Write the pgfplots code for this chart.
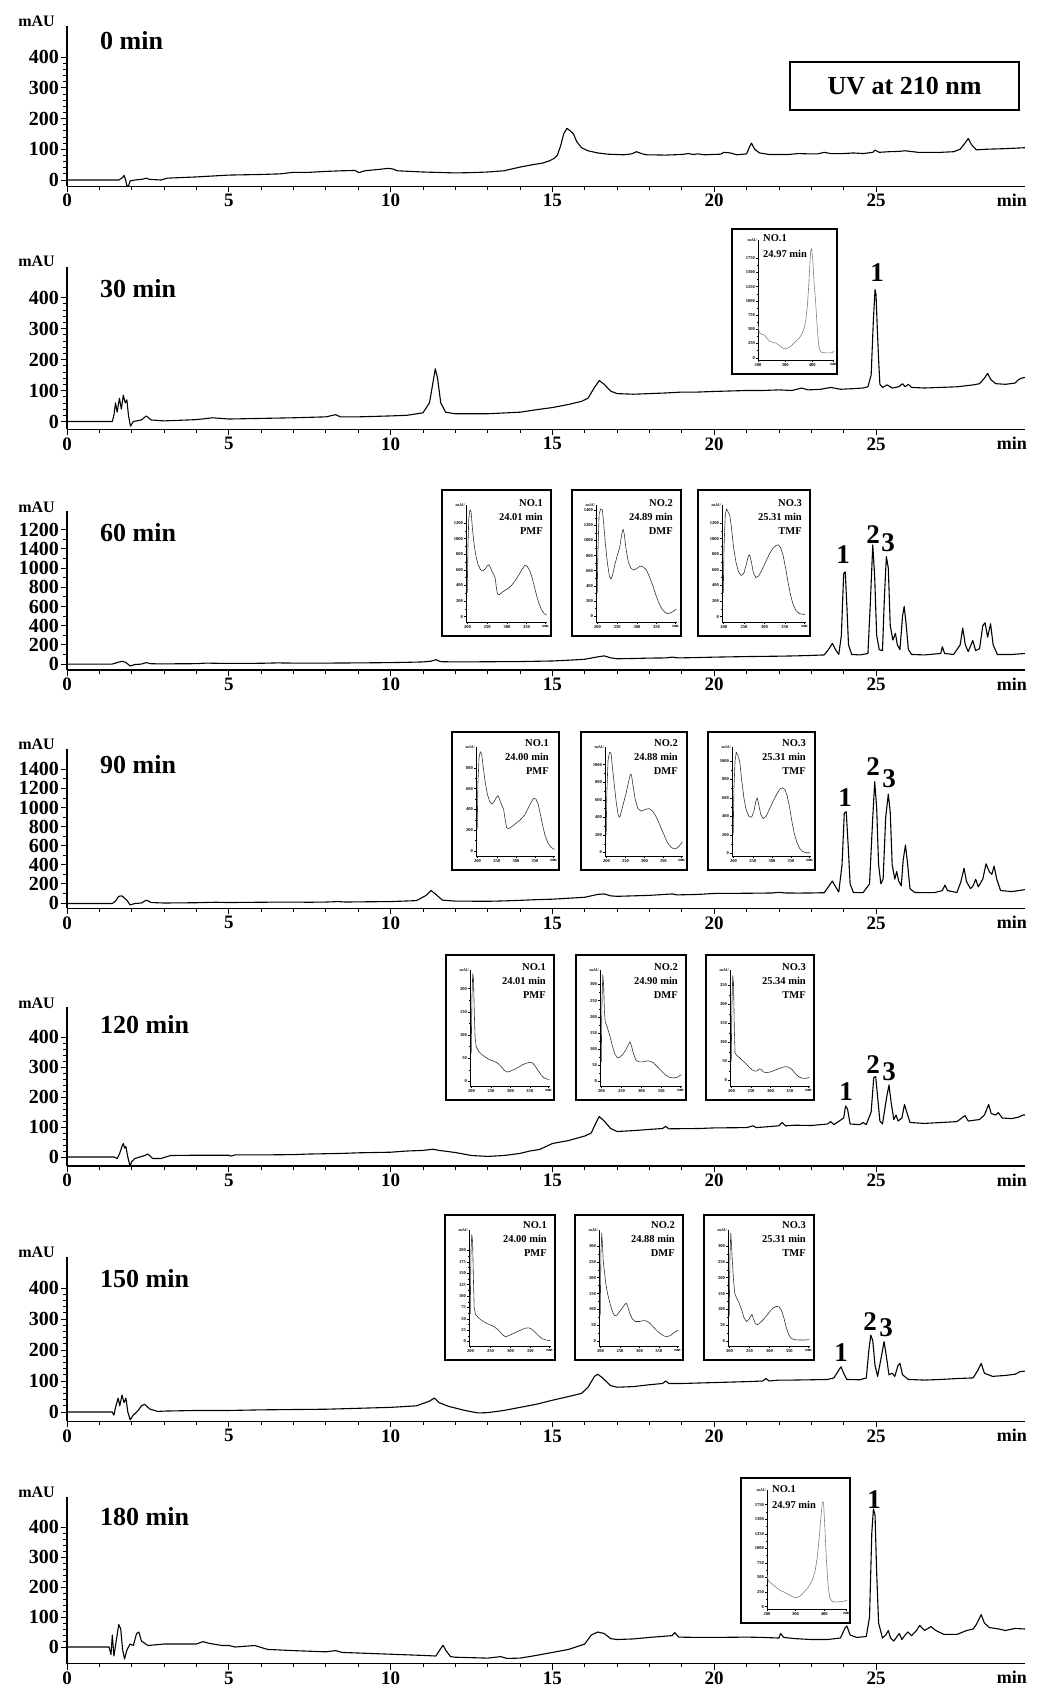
\documentclass[border=0pt]{standalone}
\usepackage{fontspec}
\setmainfont{Liberation Serif}
\usepackage{pgfplots}
\pgfplotsset{compat=1.18}
\newcommand\fs[1]{\fontsize{#1}{#1}\selectfont\bfseries}
\pgfplotsset{
  /pgf/number format/assume math mode=true,
  /pgf/number format/1000 sep={},
  scaled ticks=false,
  chrom/.style={
    axis x line=bottom, axis y line=left,
    axis line style={line width=1.3pt,-},
    x=32.36pt, xmin=0, xmax=29.6,
    xtick={0,5,10,15,20,25},
    minor x tick num=4,
    tick align=outside, major tick length=6pt, minor tick length=3.5pt,
    major tick style={line width=1pt,black},
    minor tick style={line width=0.8pt,black},
    xticklabel style={font=\fs{19}, inner sep=2pt},
    yticklabel style={font=\fs{20}, inner sep=2pt},
    anchor=south west,
  },
  y500/.style={ymax=500, ytick={0,100,200,300,400}, minor y tick num=4},
  trace/.style={black, line width=1.1pt, line join=round, mark=none},
  inset/.style={
    axis x line=bottom, axis y line=left,
    axis line style={line width=0.6pt,-},
    scale only axis, anchor=south west, clip=false,
    tick align=outside, major tick length=2pt, minor tick length=1.2pt,
    major tick style={line width=0.4pt,black},
    minor tick style={line width=0.3pt,black},
    tick label style={font=\fontsize{4.5}{5}\selectfont\bfseries, inner sep=1pt},
    minor y tick num=1, minor x tick num=4,
    after end axis/.code={\node[anchor=east, inner sep=1pt, font=\fontsize{4}{4}\selectfont\bfseries] at (rel axis cs:0,1) {mAU};},
  },
  spA/.style={xmin=196, xmax=402, xtick={200,250,300,350,398}, xticklabels={200,250,300,350,nm}},
  spB/.style={xmin=200, xmax=480, xtick={200,300,400,478}, xticklabels={200,300,400,nm}, ymin=-40, ytick={0,250,...,1750}},
  spec/.style={black!80, line width=0.6pt, line join=round, mark=none},
}
\newcommand\ibox[4]{\draw[line width=2.2pt] (#1pt,-#2pt) rectangle (#3pt,-#4pt);}
\newcommand\itext[3]{\node[anchor=north east, align=right, inner sep=0pt, font=\fontsize{10.5}{14}\selectfont\bfseries] at (#1pt,-#2pt) {#3};}
\newcommand\ltext[3]{\node[anchor=north west, align=left, inner sep=0pt, font=\fontsize{10.5}{16}\selectfont\bfseries] at (#1pt,-#2pt) {#3};}
\newcommand\plabel[3]{\node[anchor=base west, inner sep=0pt, font=\fs{26}] at (#1pt,-#2pt) {#3};}
\newcommand\mau[1]{\node[anchor=base east, inner sep=0pt, font=\fs{16}] at (55pt,-#1pt) {mAU};}
\newcommand\xmin[1]{\node[anchor=base east, inner sep=0pt, font=\fs{18}] at (1027pt,-#1pt) {min};}
\newcommand\pk[3]{\node[inner sep=0pt, font=\fs{27}] at (#1pt,-#2pt) {#3};}
\begin{document}
\begin{tikzpicture}
\useasboundingbox (0,0) rectangle (1037pt,-1691pt);
%% ---------------- 0 min
\begin{axis}[chrom, y500, at={(67pt,-186.15pt)}, y=0.3075pt, ymin=-20]
\addplot[trace] coordinates {(0,0)(1.6,0)(1.72,8)(1.76,15)(1.8,5)(1.85,-18)(1.9,-20)(1.95,-3)(2.1,0)(2.35,3)(2.45,6)(2.55,2)(2.9,0)(3.1,6)(4,10)(4.5,13)(5,16)(6,18)(6.6,20)(7,25)(7.5,25)(8,28)(8.5,30)(8.9,31)(9.02,24)(9.2,30)(9.6,34)(9.95,38)(10.1,35)(10.2,30)(10.6,28)(11,26)(12,23)(12.5,24)(13,26)(13.5,30)(14,42)(14.4,50)(14.7,55)(14.9,62)(15.05,70)(15.15,80)(15.25,110)(15.35,150)(15.45,168)(15.55,160)(15.65,150)(15.75,125)(15.9,105)(16.1,95)(16.4,88)(16.7,84)(17.2,82)(17.45,85)(17.6,92)(17.75,86)(17.9,82)(18.5,81)(19.0,83)(19.2,86)(19.35,83)(19.5,85)(19.7,82)(20.2,84)(20.3,90)(20.5,88)(20.7,82)(21.0,85)(21.1,110)(21.15,120)(21.25,100)(21.4,88)(21.7,83)(22.3,83)(22.6,86)(22.9,85)(23.2,85)(23.4,90)(23.6,86)(24.0,86)(24.3,88)(24.6,86)(24.9,90)(24.97,97)(25.1,90)(25.4,92)(25.7,93)(25.9,95)(26.3,90)(27.0,90)(27.4,92)(27.6,100)(27.75,120)(27.85,135)(27.95,115)(28.1,98)(28.4,100)(29.0,102)(29.4,104)(29.6,105)};
\end{axis}
\mau{27}\plabel{100}{50}{0 min}\xmin{206}
\node[draw, line width=2.5pt, minimum width=229pt, minimum height=48pt, inner sep=0pt, font=\fs{26}] at (904.5pt,-86pt) {UV at 210 nm};
%% ---------------- 30 min
\begin{axis}[chrom, y500, at={(67pt,-429.25pt)}, y=0.31pt, ymin=-25]
\addplot[trace] coordinates {(0,0)(1.4,0)(1.45,20)(1.5,60)(1.55,30)(1.62,75)(1.68,40)(1.74,85)(1.8,60)(1.85,70)(1.9,20)(1.96,-15)(2.05,0)(2.3,5)(2.45,18)(2.6,5)(3,2)(4,6)(4.5,12)(5,8)(6,10)(7,12)(8,15)(8.3,22)(8.45,15)(9,15)(10,18)(10.5,20)(11,28)(11.2,60)(11.3,120)(11.38,170)(11.45,140)(11.55,60)(11.7,30)(12,25)(13,25)(14,30)(14.5,38)(15,45)(15.5,55)(15.9,65)(16.1,75)(16.3,110)(16.45,132)(16.6,120)(16.8,98)(17,90)(17.5,88)(18,90)(18.5,92)(19,95)(19.5,95)(20,97)(21,100)(21.5,100)(22,102)(22.4,100)(22.7,108)(22.9,102)(23.3,104)(23.6,110)(23.9,104)(24.3,106)(24.6,108)(24.75,112)(24.85,150)(24.92,330)(24.97,425)(25.0,410)(25.04,300)(25.08,200)(25.12,120)(25.2,110)(25.35,118)(25.5,108)(25.7,112)(25.82,122)(25.9,112)(26.0,120)(26.1,110)(26.5,108)(27,110)(27.5,112)(28,118)(28.2,122)(28.35,140)(28.45,155)(28.55,135)(28.7,122)(29,120)(29.3,124)(29.4,135)(29.5,140)(29.6,142)};
\end{axis}
\mau{266}\plabel{100}{297.5}{30 min}\xmin{449}
\pk{877}{273}{1}
%% ---------------- 60 min
\begin{axis}[chrom, at={(67pt,-670pt)}, y=0.096pt, ymin=-62, ymax=1590, ytick={0,200,...,1400}, yticklabels={0,200,400,600,800,1000,1400,1200}, minor y tick num=1]
\addplot[trace] coordinates {(0,0)(1.4,0)(1.5,10)(1.6,20)(1.7,28)(1.8,20)(1.88,0)(1.95,-20)(2.1,-5)(2.3,0)(2.45,15)(2.6,3)(3,2)(4,4)(4.3,10)(4.6,8)(5,7)(6,8)(6.5,12)(7,10)(8,10)(9,12)(10,15)(10.5,18)(11,22)(11.25,30)(11.4,45)(11.55,25)(12,22)(13,24)(14,26)(15,32)(15.5,40)(16,50)(16.4,75)(16.6,85)(16.8,65)(17,55)(17.5,58)(18,62)(18.5,64)(18.7,72)(18.9,64)(19.5,68)(20,72)(21,78)(22,82)(22.5,85)(23,90)(23.4,95)(23.55,160)(23.65,215)(23.75,150)(23.85,100)(23.93,300)(24.0,940)(24.05,960)(24.1,600)(24.15,200)(24.25,100)(24.5,95)(24.75,110)(24.82,600)(24.9,1240)(24.96,900)(25.02,300)(25.1,150)(25.2,140)(25.26,700)(25.32,1120)(25.38,1000)(25.44,400)(25.52,250)(25.6,320)(25.66,200)(25.74,150)(25.82,500)(25.87,600)(25.93,420)(26.0,150)(26.1,100)(26.5,95)(27.0,110)(27.05,180)(27.12,110)(27.4,100)(27.6,200)(27.68,375)(27.76,200)(27.85,130)(27.99,245)(28.08,140)(28.2,160)(28.3,400)(28.37,430)(28.45,280)(28.54,420)(28.62,200)(28.75,100)(29.2,100)(29.6,110)};
\end{axis}
\mau{512}\plabel{100}{541.5}{60 min}\xmin{690}
\pk{843}{555}{1}\pk{873}{535}{2}\pk{888}{543}{3}
%% ---------------- 90 min
\begin{axis}[chrom, at={(67pt,-908.25pt)}, y=0.0955pt, ymin=-55, ymax=1610, ytick={0,200,...,1400}, minor y tick num=1]
\addplot[trace] coordinates {(0,-5)(1.4,-5)(1.5,20)(1.6,70)(1.7,75)(1.78,50)(1.85,30)(1.95,-20)(2.1,-5)(2.3,0)(2.45,30)(2.6,5)(3,0)(4,3)(4.6,8)(5,5)(6,8)(6.8,10)(7.5,8)(8,10)(8.4,15)(8.6,10)(9,12)(10,15)(10.4,20)(10.8,25)(11.1,80)(11.25,130)(11.4,90)(11.6,30)(12,20)(13,18)(13.5,22)(14,28)(14.5,35)(15,40)(15.5,50)(16,60)(16.4,90)(16.6,95)(16.8,75)(17,70)(18,80)(18.7,95)(18.85,85)(19.5,90)(20,100)(21,102)(21.8,105)(22,112)(22.2,105)(22.6,104)(23,105)(23.4,108)(23.55,180)(23.65,230)(23.75,170)(23.85,115)(23.95,400)(24.02,940)(24.08,956)(24.14,600)(24.2,200)(24.3,110)(24.6,108)(24.8,200)(24.9,900)(24.96,1270)(25.02,1000)(25.08,400)(25.15,200)(25.22,250)(25.3,900)(25.38,1140)(25.44,950)(25.5,400)(25.58,250)(25.64,330)(25.7,230)(25.78,180)(25.84,450)(25.91,607)(25.97,430)(26.05,150)(26.2,110)(26.8,108)(27.05,130)(27.13,188)(27.21,130)(27.5,110)(27.62,220)(27.72,363)(27.8,220)(27.92,150)(28.0,180)(28.08,248)(28.16,170)(28.3,250)(28.4,410)(28.5,330)(28.58,300)(28.65,387)(28.73,250)(28.85,130)(29.2,120)(29.6,140)};
\end{axis}
\mau{749}\plabel{100}{773.5}{90 min}\xmin{928}
\pk{845}{798}{1}\pk{873}{767}{2}\pk{889}{779}{3}
%% ---------------- 120 min
\begin{axis}[chrom, y500, at={(67pt,-1166pt)}, y=0.30pt, ymin=-30]
\addplot[trace] coordinates {(0,0)(1.45,0)(1.55,-5)(1.62,10)(1.7,35)(1.74,45)(1.78,30)(1.82,35)(1.86,10)(1.9,-10)(1.95,-30)(2.0,-15)(2.1,-5)(2.4,5)(2.5,10)(2.65,-5)(2.9,-5)(3.2,5)(4,6)(5,6)(5.05,3)(5.2,7)(6,7)(7,8)(7.5,10)(8.5,12)(9,14)(10,16)(10.5,20)(11,22)(11.3,26)(11.5,22)(12,15)(12.5,5)(13,2)(13.5,5)(14,12)(14.3,20)(14.6,25)(15,45)(15.5,55)(16,70)(16.2,80)(16.35,115)(16.45,135)(16.6,120)(16.8,95)(17,85)(17.5,88)(18,92)(18.4,95)(18.5,102)(18.6,94)(19.5,95)(20,97)(21,98)(21.2,104)(21.3,98)(22,104)(22.1,115)(22.2,104)(22.5,106)(23,105)(23.5,110)(23.6,118)(23.7,108)(24.0,130)(24.06,170)(24.12,160)(24.2,110)(24.5,108)(24.6,115)(24.7,108)(24.85,150)(24.93,265)(24.99,268)(25.05,200)(25.12,120)(25.2,110)(25.33,200)(25.4,240)(25.47,180)(25.55,125)(25.62,140)(25.68,120)(25.8,130)(25.88,175)(25.95,150)(26.05,115)(26.5,112)(27.0,115)(27.5,118)(27.75,138)(27.85,120)(28.2,125)(28.35,140)(28.48,175)(28.56,145)(28.7,140)(28.78,148)(28.9,130)(29.2,128)(29.4,133)(29.55,140)(29.6,140)};
\end{axis}
\mau{1008}\plabel{100}{1033.5}{120 min}\xmin{1186}
\pk{846}{1092}{1}\pk{873}{1065}{2}\pk{889}{1072}{3}
%% ---------------- 150 min
\begin{axis}[chrom, y500, at={(67pt,-1421.3pt)}, y=0.31pt, ymin=-30]
\addplot[trace] coordinates {(0,0)(1.4,0)(1.45,-10)(1.5,15)(1.58,45)(1.63,20)(1.7,55)(1.76,30)(1.82,45)(1.88,0)(1.95,-25)(2.05,-10)(2.2,5)(2.3,20)(2.4,25)(2.55,10)(2.8,2)(3,3)(4,5)(5,5)(6,7)(7,8)(8,9)(9,12)(10,15)(10.8,20)(11.2,35)(11.35,45)(11.5,30)(11.8,18)(12.3,5)(12.7,-3)(13,-2)(13.5,5)(14,15)(14.5,25)(15,38)(15.5,50)(15.9,60)(16.1,80)(16.3,115)(16.4,122)(16.55,110)(16.8,85)(17,80)(17.5,82)(18,88)(18.4,92)(18.5,100)(18.6,92)(19,92)(20,95)(21,98)(21.5,100)(21.6,108)(21.7,100)(22,103)(22.4,103)(23,104)(23.5,105)(23.7,110)(23.85,135)(23.92,146)(24.0,125)(24.1,105)(24.5,104)(24.7,110)(24.78,200)(24.84,248)(24.9,230)(24.97,150)(25.05,115)(25.15,170)(25.25,227)(25.32,180)(25.4,120)(25.5,125)(25.58,115)(25.68,150)(25.74,157)(25.82,120)(26,105)(26.5,103)(27,105)(27.5,108)(28.0,110)(28.15,135)(28.25,157)(28.35,125)(28.6,115)(29,118)(29.3,122)(29.45,130)(29.6,132)};
\end{axis}
\mau{1257}\plabel{100}{1287.5}{150 min}\xmin{1441}
\pk{841}{1353}{1}\pk{870}{1322}{2}\pk{886}{1328}{3}
%% ---------------- 180 min
\begin{axis}[chrom, y500, at={(67pt,-1663.5pt)}, y=0.30pt, ymin=-55]
\addplot[trace] coordinates {(0,0)(1.3,0)(1.36,-25)(1.4,40)(1.45,-30)(1.52,20)(1.6,75)(1.66,60)(1.72,-10)(1.78,-40)(1.85,-10)(1.95,10)(2.05,5)(2.15,45)(2.22,50)(2.3,20)(2.5,5)(3,10)(4,10)(4.2,18)(4.4,12)(4.8,5)(5,5)(5.2,0)(5.8,5)(6.2,-8)(7,-12)(8,-16)(8.3,-12)(8.5,-18)(9,-20)(10,-24)(11,-28)(11.4,-30)(11.55,-5)(11.62,6)(11.7,-10)(11.85,-32)(12,-34)(13,-37)(13.4,-32)(13.6,-38)(14,-37)(14.5,-28)(15,-18)(15.5,-8)(16,10)(16.2,40)(16.4,50)(16.6,45)(16.8,28)(17,25)(17.5,27)(18,32)(18.7,38)(18.78,48)(18.9,33)(19.5,32)(20,32)(21,33)(21.5,32)(22,30)(22.05,45)(22.15,32)(22.5,28)(23,25)(23.5,25)(23.9,30)(24.05,65)(24.1,70)(24.2,40)(24.4,32)(24.7,35)(24.8,100)(24.87,380)(24.92,460)(24.97,440)(25.02,250)(25.08,80)(25.2,30)(25.3,40)(25.38,55)(25.45,30)(25.55,20)(25.65,35)(25.72,45)(25.8,25)(25.9,40)(25.98,50)(26.1,38)(26.25,55)(26.35,72)(26.5,55)(26.7,68)(26.85,55)(27.1,42)(27.5,42)(27.8,55)(28.0,60)(28.1,75)(28.25,108)(28.35,80)(28.5,65)(28.8,60)(29.0,55)(29.3,62)(29.6,60)};
\end{axis}
\mau{1497}\plabel{100}{1525.5}{180 min}\xmin{1683}
\pk{874}{1500}{1}
%% ================= insets
%% 30 min
\ibox{732}{229}{837}{374}
\begin{axis}[inset, spB, at={(758pt,-360pt)}, width=76pt, height=120pt, ymax=2070]
\addplot[spec, black!50] coordinates {(200,570)(204,460)(210,420)(224,400)(235,330)(242,290)(255,270)(267,255)(280,210)(290,175)(300,155)(310,170)(321,200)(335,270)(352,345)(362,420)(370,520)(376,650)(382,920)(386,1200)(390,1550)(394,1880)(398,1920)(402,1700)(406,1350)(412,1000)(418,550)(424,200)(430,110)(436,90)(450,85)(465,85)(473,90)(480,115)};
\end{axis}
\ltext{763}{234}{NO.1\\24.97 min}
%% 60 min
\ibox{442}{490}{551}{636}
\begin{axis}[inset, spA, at={(466pt,-622pt)}, width=81pt, height=117pt, ymin=-70, ymax=1430, ytick={0,200,...,1200}]
\addplot[spec] coordinates {(199,300)(201,900)(203,1250)(206,1370)(209,1340)(212,1150)(216,950)(221,780)(227,660)(233,600)(239,585)(245,610)(250,650)(254,665)(258,630)(262,580)(266,545)(270,500)(273,380)(276,290)(280,280)(290,320)(300,350)(310,390)(320,450)(330,530)(338,600)(346,660)(352,640)(358,590)(364,500)(370,380)(376,260)(382,160)(388,90)(394,40)(401,20)};
\end{axis}
\itext{543}{499}{NO.1\\24.01 min\\PMF}
\ibox{572}{490}{681}{636}
\begin{axis}[inset, spA, at={(596pt,-622pt)}, width=81pt, height=117pt, ymin=-80, ymax=1470, ytick={0,200,...,1400}]
\addplot[spec] coordinates {(199,300)(201,900)(204,1350)(208,1420)(212,1410)(216,1200)(220,950)(225,700)(230,530)(234,490)(238,540)(244,680)(250,800)(256,900)(262,1100)(265,1150)(268,1080)(272,900)(278,720)(285,630)(292,610)(300,630)(308,660)(316,650)(324,610)(332,520)(340,410)(348,280)(356,170)(364,90)(372,45)(378,30)(385,40)(392,60)(400,90)};
\end{axis}
\itext{673}{499}{NO.2\\24.89 min\\DMF}
\ibox{698}{490}{810}{636}
\begin{axis}[inset, spA, at={(722pt,-622pt)}, width=84pt, height=117pt, ymin=-70, ymax=1430, ytick={0,200,...,1200}]
\addplot[spec] coordinates {(199,300)(201,900)(204,1300)(207,1380)(211,1340)(215,1300)(219,1150)(224,900)(230,700)(236,580)(243,525)(250,560)(256,680)(261,780)(264,790)(268,700)(273,560)(279,500)(286,520)(294,600)(303,700)(312,800)(320,870)(328,910)(334,920)(340,880)(346,780)(352,620)(358,440)(364,280)(370,160)(377,80)(385,40)(393,30)(400,30)};
\end{axis}
\itext{802}{499}{NO.3\\25.31 min\\TMF}
%% 90 min
\ibox{452}{732}{559}{870}
\begin{axis}[inset, spA, at={(476pt,-856pt)}, width=79pt, height=109pt, ymin=-50, ymax=1000, ytick={0,200,...,800}]
\addplot[spec] coordinates {(199,200)(201,650)(204,900)(207,955)(211,930)(215,800)(220,660)(226,540)(232,470)(238,450)(244,480)(250,520)(254,530)(258,490)(263,440)(268,400)(272,300)(276,220)(282,215)(292,240)(302,270)(312,300)(322,340)(332,410)(340,470)(346,505)(352,500)(358,450)(364,350)(370,240)(376,150)(383,80)(390,40)(397,20)(401,15)};
\end{axis}
\itext{549}{739}{NO.1\\24.00 min\\PMF}
\ibox{581}{732}{687}{870}
\begin{axis}[inset, spA, at={(605pt,-856pt)}, width=78pt, height=109pt, ymin=-40, ymax=1200, ytick={0,200,...,1000}]
\addplot[spec] coordinates {(199,200)(201,700)(204,1050)(208,1140)(212,1130)(216,950)(221,750)(226,560)(231,420)(235,400)(240,480)(246,580)(252,680)(258,800)(263,890)(266,880)(270,760)(276,600)(283,500)(292,470)(302,490)(312,500)(322,470)(332,400)(342,300)(352,200)(360,120)(368,70)(376,45)(383,42)(390,65)(397,100)(400,125)};
\end{axis}
\itext{678}{739}{NO.2\\24.88 min\\DMF}
\ibox{708}{732}{815}{870}
\begin{axis}[inset, spA, at={(732pt,-856pt)}, width=79pt, height=109pt, ymin=-30, ymax=1150, ytick={0,200,...,1000}]
\addplot[spec] coordinates {(199,200)(201,700)(204,1000)(207,1095)(211,1060)(216,1000)(221,800)(227,600)(233,470)(240,400)(247,390)(253,450)(258,560)(262,600)(266,520)(271,420)(277,375)(285,400)(294,480)(304,570)(314,650)(322,700)(328,707)(334,690)(340,620)(346,500)(352,350)(358,220)(365,120)(372,55)(380,20)(390,5)(400,5)};
\end{axis}
\itext{806}{739}{NO.3\\25.31 min\\TMF}
%% 120 min
\ibox{446}{955}{554}{1100}
\begin{axis}[inset, spA, at={(470pt,-1086pt)}, width=80pt, height=116pt, ymin=-10, ymax=240, ytick={0,50,...,200}]
\addplot[spec] coordinates {(199,60)(201,180)(203,232)(205,220)(207,150)(209,95)(212,75)(218,65)(226,58)(236,52)(246,47)(256,44)(266,40)(276,32)(284,24)(292,20)(300,22)(310,26)(320,30)(330,35)(340,39)(350,41)(356,40)(362,35)(370,25)(378,15)(386,8)(394,5)(400,4)};
\end{axis}
\itext{546}{963}{NO.1\\24.01 min\\PMF}
\ibox{576}{955}{686}{1100}
\begin{axis}[inset, spA, at={(600pt,-1086pt)}, width=82pt, height=116pt, ymin=-15, ymax=345, ytick={0,50,...,300}]
\addplot[spec] coordinates {(199,60)(201,250)(203,330)(205,300)(207,220)(209,185)(212,175)(216,160)(221,140)(227,110)(233,85)(240,72)(247,75)(254,85)(260,95)(266,110)(271,122)(275,110)(280,85)(286,66)(294,60)(304,60)(314,63)(322,62)(330,57)(340,45)(350,32)(360,20)(370,12)(380,10)(390,12)(400,20)};
\end{axis}
\itext{678}{963}{NO.2\\24.90 min\\DMF}
\ibox{706}{955}{814}{1100}
\begin{axis}[inset, spA, at={(730pt,-1086pt)}, width=80pt, height=116pt, ymin=-15, ymax=290, ytick={0,50,...,250}]
\addplot[spec] coordinates {(199,50)(201,200)(203,275)(205,255)(207,140)(209,72)(213,66)(220,60)(228,52)(236,45)(244,36)(252,28)(260,24)(266,25)(272,30)(277,28)(282,22)(290,20)(300,22)(310,26)(320,30)(330,34)(340,36)(348,34)(356,28)(364,18)(372,10)(380,6)(388,5)(396,6)(400,8)};
\end{axis}
\itext{806}{963}{NO.3\\25.34 min\\TMF}
%% 150 min
\ibox{445}{1215}{555}{1360}
\begin{axis}[inset, spA, at={(469pt,-1346pt)}, width=82pt, height=116pt, ymin=-10, ymax=245, ytick={0,25,...,200}]
\addplot[spec] coordinates {(199,60)(201,200)(203,235)(205,220)(207,140)(209,75)(212,60)(220,52)(230,45)(240,40)(250,36)(260,32)(270,25)(280,15)(288,10)(296,13)(306,17)(316,21)(326,25)(336,29)(346,30)(354,27)(362,20)(370,13)(380,6)(390,3)(400,2)};
\end{axis}
\itext{547}{1221}{NO.1\\24.00 min\\PMF}
\ibox{575}{1215}{683}{1360}
\begin{axis}[inset, spA, at={(599pt,-1346pt)}, width=80pt, height=116pt, ymin=-15, ymax=350, ytick={0,50,...,300}]
\addplot[spec] coordinates {(199,80)(201,280)(203,340)(205,300)(207,250)(210,220)(213,185)(218,150)(224,120)(230,95)(236,80)(242,82)(250,95)(256,105)(262,115)(266,120)(270,110)(276,85)(282,70)(290,62)(300,62)(310,65)(318,64)(326,58)(336,45)(346,32)(356,22)(364,16)(372,15)(380,18)(390,28)(400,35)};
\end{axis}
\itext{675}{1221}{NO.2\\24.88 min\\DMF}
\ibox{704}{1215}{814}{1360}
\begin{axis}[inset, spA, at={(728pt,-1346pt)}, width=82pt, height=116pt, ymin=-15, ymax=350, ytick={0,50,...,300}]
\addplot[spec] coordinates {(199,80)(201,270)(203,340)(205,300)(207,250)(210,190)(213,150)(218,135)(224,120)(230,100)(236,75)(242,62)(248,68)(253,78)(256,85)(260,70)(265,55)(270,52)(278,60)(286,70)(294,82)(302,95)(310,105)(318,110)(324,108)(330,98)(336,75)(342,45)(348,22)(354,10)(362,5)(375,4)(390,4)(400,5)};
\end{axis}
\itext{806}{1221}{NO.3\\25.31 min\\TMF}
%% 180 min
\ibox{741}{1478}{850}{1623}
\begin{axis}[inset, spB, at={(767pt,-1609pt)}, width=80pt, height=119pt, ymax=2000]
\addplot[spec, black!50] coordinates {(200,550)(205,440)(215,400)(230,340)(245,280)(260,250)(275,210)(290,170)(300,150)(315,180)(330,250)(345,340)(358,450)(368,600)(376,850)(383,1200)(389,1550)(394,1800)(398,1780)(403,1300)(408,800)(414,350)(420,150)(428,90)(440,80)(455,85)(470,95)(480,110)};
\end{axis}
\ltext{772}{1485}{NO.1\\24.97 min}
\end{tikzpicture}
\end{document}
